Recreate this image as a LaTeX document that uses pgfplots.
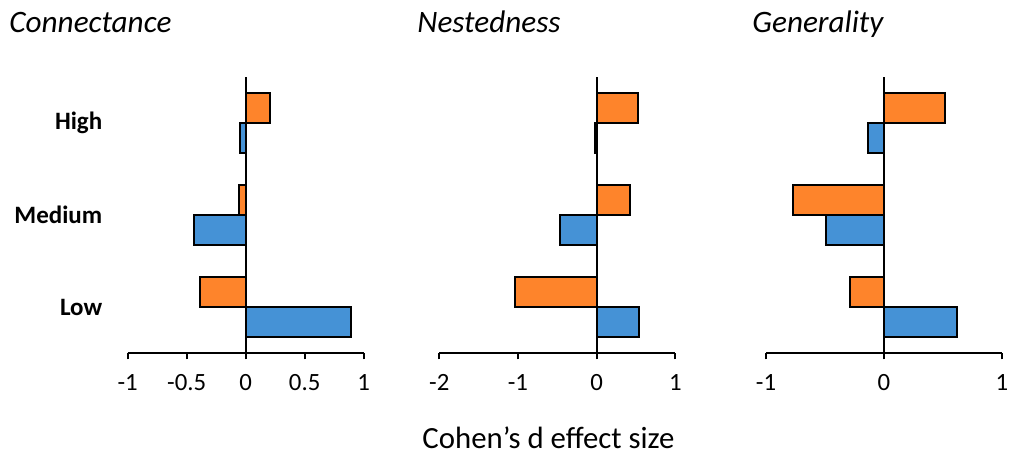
\documentclass[border=0pt]{standalone}
\usepackage{fontspec}
\setmainfont{Carlito}
\usepackage{pgfplots}
\pgfplotsset{compat=1.18}
\usepackage{pgfplotstable}
\definecolor{cOrange}{HTML}{FE842B}
\definecolor{cBlue}{HTML}{4592D6}

% columns: y (0=Low,1=Medium,2=High), orange, blue
\pgfplotstableread{
y  o      b
0  -0.39  0.89
1  -0.06  -0.44
2  0.21   -0.05
}\conn
\pgfplotstableread{
y  o      b
0  -1.04  0.54
1  0.43   -0.47
2  0.53   -0.02
}\nest
\pgfplotstableread{
y  o      b
0  -0.29  0.615
1  -0.77  -0.49
2  0.52   -0.135
}\gen

\pgfplotsset{
  panel/.style={
    scale only axis, width=118pt, height=138pt,
    xbar, bar width=0.33,
    ymin=-0.5, ymax=2.5,
    axis x line*=bottom, axis y line*=left,
    y axis line style={draw=none},
    x axis line style={line width=1pt},
    ytick style={draw=none},
    xtick style={line width=1pt, black},
    tick align=outside, major tick length=3.2pt,
    ytick={0,1,2},
    yticklabels={},
    xticklabel style={font=\fontsize{12.4}{14}\selectfont, yshift=-4pt},
    /pgf/number format/assume math mode=true,
    every axis plot/.append style={draw=black, line width=1pt},
    clip=false,
    anchor=south west,
  },
}

\begin{document}
\begin{tikzpicture}[x=1pt,y=1pt]
\useasboundingbox (0,0) rectangle (506.5,228);

\begin{axis}[panel, at={(63.85pt,51.5pt)},
  xmin=-1, xmax=1, xtick={-1,-0.5,0,0.5,1},
  xticklabels={-1,-0.5,0,0.5,1},
  yticklabels={Low,Medium,High},
  yticklabel style={font=\fontsize{12.5}{14}\selectfont\bfseries, anchor=east, xshift=-6pt}]
\addplot[fill=cOrange, bar shift=0.165] table[x=o,y=y]{\conn};
\addplot[fill=cBlue, bar shift=-0.165] table[x=b,y=y]{\conn};
\draw[line width=1pt] (axis cs:0,-0.5) -- (axis cs:0,2.5);
\end{axis}

\begin{axis}[panel, at={(219.65pt,51.5pt)},
  xmin=-2, xmax=1, xtick={-2,-1,0,1}, xticklabels={-2,-1,0,1}]
\addplot[fill=cOrange, bar shift=0.165] table[x=o,y=y]{\nest};
\addplot[fill=cBlue, bar shift=-0.165] table[x=b,y=y]{\nest};
\draw[line width=1pt] (axis cs:0,-0.5) -- (axis cs:0,2.5);
\end{axis}

\begin{axis}[panel, at={(383pt,51.5pt)},
  xmin=-1, xmax=1, xtick={-1,0,1}, xticklabels={-1,0,1}]
\addplot[fill=cOrange, bar shift=0.165] table[x=o,y=y]{\gen};
\addplot[fill=cBlue, bar shift=-0.165] table[x=b,y=y]{\gen};
\draw[line width=1pt] (axis cs:0,-0.5) -- (axis cs:0,2.5);
\end{axis}

\node[anchor=base west, inner sep=0, font=\fontsize{15.6}{18}\selectfont\itshape] at (4.5,211.5) {Connectance};
\node[anchor=base west, inner sep=0, font=\fontsize{15.6}{18}\selectfont\itshape] at (208.5,211.5) {Nestedness};
\node[anchor=base west, inner sep=0, font=\fontsize{15.6}{18}\selectfont\itshape] at (376,211.5) {Generality};
\node[anchor=base, inner sep=0, font=\fontsize{15.4}{18}\selectfont] at (274.25,4) {Cohen’s d effect size};
\end{tikzpicture}
\end{document}
